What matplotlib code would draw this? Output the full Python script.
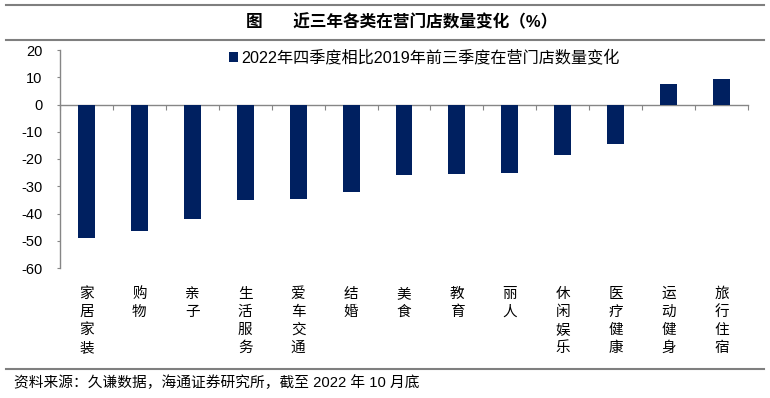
import matplotlib
matplotlib.use("Agg")
import matplotlib.pyplot as plt
from matplotlib.lines import Line2D
import matplotlib.transforms as mtransforms

plt.rcParams['font.family'] = ['Liberation Sans', 'Noto Sans CJK SC']
plt.rcParams['axes.unicode_minus'] = False

categories = ["家居家装", "购物", "亲子", "生活服务", "爱车交通", "结婚", "美食",
              "教育", "丽人", "休闲娱乐", "医疗健康", "运动健身", "旅行住宿"]
values = [-49.0, -46.5, -42.2, -35.2, -34.8, -32.1, -26.0,
          -25.6, -25.2, -18.4, -14.5, 7.5, 9.2]
series_name = "2022年四季度相比2019年前三季度在营门店数量变化"
yticks = [-60, -50, -40, -30, -20, -10, 0, 10, 20]

title = "图\u3000   近三年各类在营门店数量变化（%）"
source = "资料来源：久谦数据，海通证券研究所，截至 2022 年 10 月底"

W, H = 770, 398
fig = plt.figure(figsize=(W / 100, H / 100), dpi=100)
ax = fig.add_axes([60 / W, 1 - 268 / H, (748 - 60) / W, (268 - 50) / H])

grey = '#868686'
x = list(range(len(categories)))
ax.bar(x, values, width=0.32, color='#002060', label=series_name, zorder=3)

ax.set_xlim(-0.5, len(categories) - 0.5)
ax.set_ylim(-60, 20)
ax.set_yticks(yticks)
ax.set_xticks([i - 0.5 for i in range(len(categories) + 1)])
ax.set_xticklabels([])

ax.spines['top'].set_visible(False)
ax.spines['right'].set_visible(False)
ax.spines['bottom'].set_position(('data', 0))
ax.spines['bottom'].set_color(grey)
ax.spines['left'].set_color(grey)
ax.spines['bottom'].set_linewidth(1.0)
ax.spines['left'].set_linewidth(1.0)
ax.tick_params(axis='y', direction='out', length=2.5, width=0.8, color=grey,
               labelsize=10.5, pad=10)
ax.tick_params(axis='x', direction='out', length=3.5, width=0.8, color=grey)

# category labels written vertically under the plot
trans = mtransforms.blended_transform_factory(ax.transData, fig.transFigure)
for i, name in enumerate(categories):
    ax.text(i, 1 - 287 / H, "\n".join(name), transform=trans, ha='center', va='top',
            fontsize=10.5, family='Noto Sans CJK SC', linespacing=1.37)

fig.legend(loc='center left', bbox_to_anchor=(229 / W, 1 - 58 / H), frameon=False,
           fontsize=11.6, handlelength=0.55, handleheight=0.55, handletextpad=0.2,
           borderpad=0, borderaxespad=0)

fig.text(0.521, 1 - 22 / H, title, ha='center', va='center', fontsize=12,
         fontweight='bold')
fig.text(14 / W, 1 - 383 / H, source, ha='left', va='center', fontsize=10.6)

for yy in [5, 40, 369]:
    fig.add_artist(Line2D([6 / W, 764 / W], [1 - yy / H, 1 - yy / H],
                          transform=fig.transFigure, color='#7f7f7f', lw=1.5))

fig.savefig("out.png", dpi=100)
plt.close(fig)
